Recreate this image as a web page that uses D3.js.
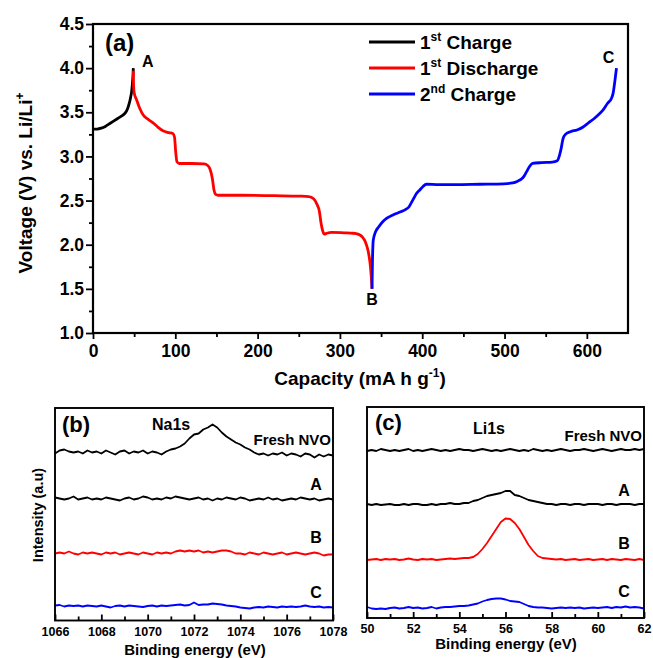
<!DOCTYPE html>
<html>
<head>
<meta charset="utf-8">
<script src="https://cdn.jsdelivr.net/npm/d3@7"></script>
<style>
  html, body { margin: 0; padding: 0; background: #fff; }
  svg { display: block; font-family: "Liberation Sans", Arial, sans-serif; font-weight: bold; }
</style>
</head>
<body>
<svg id="fig" width="653" height="658"></svg>
<script>
// ---------- (a) charge / discharge profiles: [capacity mA h g-1, voltage V] ----------
const firstCharge = [
  [0, 3.31], [5, 3.31], [10, 3.32], [15, 3.34], [20, 3.37], [25, 3.40], [30, 3.43],
  [35, 3.46], [39, 3.49], [42, 3.54], [44, 3.60], [45.5, 3.66], [47, 3.74], [48, 3.84],
  [48.6, 3.92], [49, 4.0]
];
const firstDischarge = [
  [49, 3.97], [49.3, 3.80], [50, 3.72], [53, 3.64], [57, 3.54], [61, 3.47], [67, 3.42],
  [73, 3.38], [79, 3.33], [85, 3.29], [92, 3.27], [97, 3.26], [99, 3.22], [100.5, 3.05],
  [102, 2.94], [105, 2.92], [120, 2.92], [135, 2.915], [139, 2.90], [142, 2.86], [145, 2.75],
  [147, 2.62], [149, 2.57], [152, 2.56], [180, 2.56], [220, 2.555], [252, 2.55], [262, 2.545],
  [268, 2.52], [272, 2.46], [275, 2.38], [277, 2.25], [279, 2.16], [281, 2.12], [284, 2.13],
  [290, 2.14], [305, 2.135], [316, 2.13], [322, 2.12], [327, 2.09], [331, 2.03], [334, 1.94],
  [336.5, 1.80], [338, 1.65], [339, 1.50]
];
const secondCharge = [
  [339, 1.50], [339.5, 1.80], [340.5, 2.05], [343, 2.14], [347, 2.20], [352, 2.26], [357, 2.30],
  [365, 2.34], [373, 2.37], [380, 2.40], [384, 2.43], [387, 2.48], [390, 2.53], [393, 2.58],
  [397, 2.62], [401, 2.66], [405, 2.685], [420, 2.68], [440, 2.68], [470, 2.685], [499, 2.69],
  [510, 2.70], [516, 2.72], [520, 2.74], [524, 2.78], [527, 2.83], [530, 2.88], [534, 2.92],
  [545, 2.93], [558, 2.935], [564, 2.95], [567, 3.02], [569, 3.10], [571, 3.20], [574, 3.25],
  [580, 3.28], [588, 3.30], [595, 3.33], [602, 3.38], [609, 3.43], [615, 3.48], [620, 3.53],
  [625, 3.60], [630, 3.66], [632, 3.72], [634, 3.85], [636, 4.0]
];
const capTicks = [0, 100, 200, 300, 400, 500, 600];
const capMinor = [50, 150, 250, 350, 450, 550];
const voltTicks = [1.0, 1.5, 2.0, 2.5, 3.0, 3.5, 4.0, 4.5];
const voltMinor = [1.25, 1.75, 2.25, 2.75, 3.25, 3.75, 4.25];
const seriesNames = ["1st Charge", "1st Discharge", "2nd Charge"];
const seriesColors = ["#000000", "#ff0000", "#0000ff"];

// ---------- (b) Na1s spectra, 1066 - 1078 eV, 0.2 eV steps (offset intensities) ----------
const naRange = [1066, 1078];
const naFresh = [
  167,170,171,169,168,169,167,170,168,169,
  167,170,168,166,169,170,167,169,168,170,
  167,169,168,166,169,171,172,174,177,182,
  186,187,191,193,196,193,188,184,181,178,
  176,173,171,168,166,167,165,167,166,168,
  165,167,166,164,167,166,163,166,164,166,
  165
];
const naA = [
  123,122,121,122,124,121,122,123,121,122,
  121,123,122,121,120,122,123,121,122,124,
  123,121,122,121,123,122,124,123,122,121,
  122,123,121,122,120,122,121,123,122,121,
  123,122,120,121,122,121,123,121,122,120,
  121,122,121,123,122,121,122,120,121,122,
  121
];
const naB = [
  67,68,67,69,67,66,68,67,68,67,
  66,68,67,68,66,67,68,67,66,68,
  67,66,68,67,68,67,69,70,69,70,
  69,70,68,69,68,69,70,70,69,67,
  67,66,68,67,66,68,67,66,67,68,
  66,67,68,67,66,67,68,67,65,66,
  66
];
const naC = [
  15,15.5,14,15,14.5,15,14,15,14.5,14,
  15,14,13,14.5,15,14,15,14.5,14,13.5,
  14.5,15,14,15,14.5,15,15.5,16,15,15.5,
  18,15.5,16,16,17,16.5,16,15,14.5,14,
  13,12.5,12,13,13.5,13,14,13.5,13,14,
  13.5,14,13.5,14,15,14,13.5,14,13,13.5,
  13
];
const naTicks = [1066, 1068, 1070, 1072, 1074, 1076, 1078];
const naMinor = [1067, 1069, 1071, 1073, 1075, 1077];

// ---------- (c) Li1s spectra, 50 - 62 eV, 0.2 eV steps (offset intensities) ----------
const liRange = [50, 62];
const liFresh = [
  167,168,167,169,168,167,168,167,168,169,
  167,168,167,168,169,168,167,168,167,168,
  169,168,168,167,168,169,168,167,168,167,
  168,169,168,167,168,167,169,168,167,168,
  167,168,169,168,167,168,168,169,168,167,
  168,169,168,167,168,169,168,168,169,168,
  169
];
const liA = [
  114,113,114,113,113.5,114,113,113,114,113,
  114,114,113,113,114,113,114,114,115,114,
  114,115,115,117,118,120,122,123,124,125,
  127,127,123,122,120,118,117,116,115,114,
  114,113,114,114,113,114,114,113,114,114,
  114,113,114,114,113,114,114,114,113,114,
  114
];
const liB = [
  58,58.5,59,58,59,58.5,59,58,58.5,59.5,
  58.5,58,59,58.5,59,58,58.5,59,59.5,59,
  59.5,60,60,61,64,69,75,82,89,96,
  99.5,99,95,89,81,73,67,62,60,59.5,
  59,58.5,59,58,58.5,59,58,58.5,59,58,
  58.5,59,58,59,58.5,58,59,58.5,58,59,
  58
];
const liC = [
  11,9.5,9,9.5,9,10,10.5,9.5,10,11,
  10,10.5,9.5,10,11,9.5,10.5,11,11,11.5,
  12,12,12.5,13.5,14.5,16.5,18,19,19.5,19.5,
  18.5,17,16.5,16,14,12,11,10.5,10.5,10,
  9.5,10,10.5,10,10.5,10,10.5,9.5,10,10.5,
  10,10.5,11,10,11,10.5,11.5,10.5,11,10.5,
  9.5
];
const liTicks = [50, 52, 54, 56, 58, 60, 62];
const liMinor = [51, 53, 55, 57, 59, 61];
const spectrumNames = ["Fresh NVO", "A", "B", "C"];
const spectrumColors = ["#000000", "#000000", "#ff0000", "#0000ff"];

// ---------------------------------------------------------------------------------
const svg = d3.select("#fig");

function styleAxis(g, size) {
  g.attr("font-family", null).attr("font-size", size).attr("font-weight", "bold");
  g.select(".domain").remove();
  g.selectAll(".tick line").attr("stroke", "#000").attr("stroke-width", 1.8);
  g.selectAll(".tick text").attr("fill", "#000");
}

function addText(x, y, txt, size, anchor) {
  return svg.append("text")
    .attr("x", x).attr("y", y)
    .attr("font-size", size)
    .attr("text-anchor", anchor || "start")
    .attr("fill", "#000")
    .text(txt);
}

// ================= (a) =================
const A = { left: 93, right: 628, top: 24, bottom: 333 };
const xA = d3.scaleLinear().domain([0, 650]).range([A.left, A.right]);
const yA = d3.scaleLinear().domain([1, 4.5]).range([A.bottom, A.top]);

svg.append("g").attr("transform", `translate(0,${A.bottom})`)
  .call(d3.axisBottom(xA).tickValues(capMinor).tickSize(4).tickFormat(""))
  .call(g => styleAxis(g, 17.5));
svg.append("g").attr("transform", `translate(0,${A.bottom})`)
  .call(d3.axisBottom(xA).tickValues(capTicks).tickSize(6).tickPadding(6).tickFormat(d3.format("d")))
  .call(g => styleAxis(g, 17.5));
svg.append("g").attr("transform", `translate(${A.left},0)`)
  .call(d3.axisLeft(yA).tickValues(voltMinor).tickSize(4).tickFormat(""))
  .call(g => styleAxis(g, 17.5));
svg.append("g").attr("transform", `translate(${A.left},0)`)
  .call(d3.axisLeft(yA).tickValues(voltTicks).tickSize(7).tickPadding(2).tickFormat(d3.format(".1f")))
  .call(g => styleAxis(g, 17.5));

const lineA = d3.line().x(d => xA(d[0])).y(d => yA(d[1])).curve(d3.curveMonotoneX);
[firstCharge, firstDischarge, secondCharge].forEach((s, i) => {
  svg.append("path").datum(s)
    .attr("d", lineA)
    .attr("fill", "none")
    .attr("stroke", seriesColors[i])
    .attr("stroke-width", 2.8)
    .attr("stroke-linejoin", "round");
});

svg.append("rect")
  .attr("x", A.left).attr("y", A.top)
  .attr("width", A.right - A.left).attr("height", A.bottom - A.top)
  .attr("fill", "none").attr("stroke", "#000").attr("stroke-width", 2.2);

// legend
const legRows = [42, 68, 94];
seriesNames.forEach((name, i) => {
  svg.append("line")
    .attr("x1", 369).attr("x2", 415)
    .attr("y1", legRows[i]).attr("y2", legRows[i])
    .attr("stroke", seriesColors[i]).attr("stroke-width", 2.8);
  const m = name.match(/^(\d)(st|nd)\s(.*)$/);
  const t = svg.append("text").attr("x", 420).attr("y", legRows[i] + 7)
    .attr("font-size", 19).attr("fill", "#000");
  t.append("tspan").text(m[1]);
  t.append("tspan").attr("font-size", 12).attr("dy", -8).text(m[2]);
  t.append("tspan").attr("dy", 8).text("\u00a0" + m[3]);
});

addText(105, 51, "(a)", 24);
addText(142, 67, "A", 16);
addText(xA(339), 305, "B", 16, "middle");
addText(xA(636) - 8, 63, "C", 16, "middle");

// axis titles
const xt = svg.append("text").attr("x", 360).attr("y", 385)
  .attr("text-anchor", "middle").attr("font-size", 19).attr("fill", "#000");
xt.append("tspan").text("Capacity (mA h g");
xt.append("tspan").attr("font-size", 12).attr("dy", -8).text("-1");
xt.append("tspan").attr("dy", 8).text(")");

const yt = svg.append("text").attr("transform", "translate(32,183) rotate(-90)")
  .attr("text-anchor", "middle").attr("font-size", 19).attr("fill", "#000");
yt.append("tspan").text("Voltage (V) vs. Li/Li");
yt.append("tspan").attr("font-size", 12).attr("dy", -8).text("+");

// ================= spectra panels =================
function spectrumPanel(box, range, traces, ticks, minor, yMax, labelPad) {
  const x = d3.scaleLinear().domain(range).range([box.left, box.right]);
  const y = d3.scaleLinear().domain([0, yMax]).range([box.bottom, box.top]);

  svg.append("g").attr("transform", `translate(0,${box.bottom})`)
    .call(d3.axisBottom(x).tickValues(minor).tickSize(-4).tickFormat(""))
    .call(g => styleAxis(g, 12.5));
  svg.append("g").attr("transform", `translate(0,${box.bottom})`)
    .call(d3.axisBottom(x).tickValues(ticks).tickSize(-6).tickPadding(labelPad).tickFormat(d3.format("d")))
    .call(g => styleAxis(g, 12.5));

  traces.forEach((vals, i) => {
    const step = (range[1] - range[0]) / (vals.length - 1);
    const line = d3.line()
      .x((d, k) => x(range[0] + k * step))
      .y(d => y(d));
    svg.append("path").datum(vals)
      .attr("d", line)
      .attr("fill", "none")
      .attr("stroke", spectrumColors[i])
      .attr("stroke-width", 1.8)
      .attr("stroke-linejoin", "round");
  });

  svg.append("rect")
    .attr("x", box.left).attr("y", box.top)
    .attr("width", box.right - box.left).attr("height", box.bottom - box.top)
    .attr("fill", "none").attr("stroke", "#000").attr("stroke-width", 1.9);
  return x;
}

// (b)
const Bbox = { left: 55, right: 333, top: 408, bottom: 620.5 };
spectrumPanel(Bbox, naRange, [naFresh, naA, naB, naC], naTicks, naMinor, 212.5, 7);
addText(62, 432, "(b)", 22);
addText(152, 430, "Na1s", 16);
addText(331, 445, spectrumNames[0], 15, "end");
addText(316, 490, spectrumNames[1], 16, "middle");
addText(316, 543, spectrumNames[2], 16, "middle");
addText(316, 598, spectrumNames[3], 16, "middle");
addText(195, 655, "Binding energy (eV)", 15, "middle");
svg.append("text").attr("transform", "translate(43,515) rotate(-90)")
  .attr("text-anchor", "middle").attr("font-size", 14.5).attr("fill", "#000")
  .text("Intensity (a.u)");

// (c)
const Cbox = { left: 367, right: 644, top: 407, bottom: 618 };
spectrumPanel(Cbox, liRange, [liFresh, liA, liB, liC], liTicks, liMinor, 211, 6);
addText(375, 430, "(c)", 22);
addText(473, 434, "Li1s", 16);
addText(642, 441, spectrumNames[0], 15, "end");
addText(624, 496, spectrumNames[1], 16, "middle");
addText(624, 549, spectrumNames[2], 16, "middle");
addText(624, 597, spectrumNames[3], 16, "middle");
addText(506, 649, "Binding energy (eV)", 15, "middle");
</script>
</body>
</html>
